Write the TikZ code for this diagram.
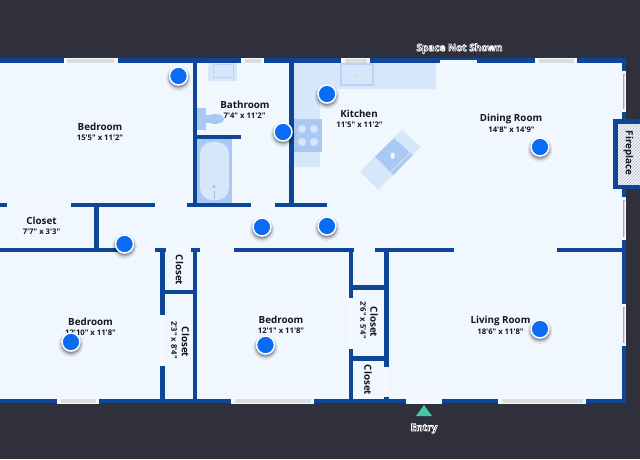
\documentclass[tikz,border=0pt]{standalone}
\usepackage{fontspec}
\newfontfamily\labelfont{Open Sans}[BoldFont={Open Sans Bold}]
\usetikzlibrary{patterns}
\definecolor{bgdark}{HTML}{2F303B}
\definecolor{roomfill}{HTML}{F0F7FE}
\definecolor{wallblue}{HTML}{0F4596}
\definecolor{fixlight}{HTML}{D6E6FB}
\definecolor{fixmid}{HTML}{A9C9F5}
\definecolor{fixline}{HTML}{B9D3F7}
\definecolor{dotblue}{HTML}{0A6BF5}
\definecolor{winfill}{HTML}{D9DDDE}
\definecolor{openfill}{HTML}{F6F9FC}
\definecolor{entrygreen}{HTML}{41C8A4}
\definecolor{inktext}{HTML}{15171C}
\definecolor{hatchgrey}{HTML}{B4BBC4}
\newcommand{\halotext}[1]{\special{pdf:code 1 1 1 RG 0.75 w 2 Tr}#1\special{pdf:code 0 Tr 0 0 0 RG}}
\tikzset{
  x=1pt,y=-1pt,
  wall/.style={draw=wallblue,line width=4.8pt},
  doorgap/.style={draw=openfill,line width=4pt},
  winend/.style={fill=openfill,draw=none},
  wincenter/.style={fill=winfill,draw=none},
  roomname/.style={font=\labelfont\bfseries\fontsize{9.8}{11}\selectfont,text=inktext,inner sep=0pt},
  roomsize/.style={font=\labelfont\bfseries\fontsize{7.7}{9}\selectfont,text=inktext,inner sep=0pt},
  outname/.style={font=\labelfont\bfseries\fontsize{10}{11}\selectfont,text=inktext,inner sep=1pt},
  mapdot/.style={circle,fill=dotblue,draw=white,line width=1.5pt,minimum size=18pt,inner sep=0pt},
}
\newcommand{\mapshadow}[1]{%
  \fill[black,opacity=.08] #1 ++(0,2.5) circle (12.5);
  \fill[black,opacity=.14] #1 ++(0,2) circle (11);
  \fill[black,opacity=.22] #1 ++(0,1.5) circle (10);
}
\newcommand{\hwin}[3]{% x1 x2 y-centre
  \fill[winend] (#1,#3-2.6) rectangle (#2,#3+2.6);
  \fill[wincenter] (#1+3.5,#3-1.9) rectangle (#2-3.5,#3+2.2);
}
\newcommand{\vwin}[3]{% y1 y2 x-centre
  \fill[winend] (#3-2.2,#1) rectangle (#3+2.2,#2);
  \fill[gray!70] (#3-.8,#1+3) rectangle (#3+1.2,#2-3);
  \fill[wincenter] (#3-.3,#1+3.5) rectangle (#3+.7,#2-3.5);
}
\begin{document}
\begin{tikzpicture}
\useasboundingbox (0,0) rectangle (640,459);
\fill[bgdark] (0,0) rectangle (640,459);
% floor
\fill[roomfill] (0,60) rectangle (624,401);
% kitchen fixtures
\fill[fixlight] (293,63) rectangle (436,89);
\fill[fixlight] (293,63) rectangle (320,167);
\fill[fixmid] (293,119) rectangle (322,152);
\foreach \cx/\cy in {302/129,314/129,302/142,314/142}
  \fill[fixlight] (\cx,\cy) circle (4);
\draw[fixline,line width=1.4pt,fill=fixlight] (341,64) rectangle (373,85);
\fill[fixline] (357,76) circle (1);
\fill[fixlight] (401.7,130) -- (421,146.7) -- (378.3,190) -- (360,171.7) -- cycle;
\fill[fixmid] (394,138.3) -- (412.7,155) -- (393.3,175) -- (375,156.7) -- cycle;
\draw[fixlight,line width=.8pt] (410,153) -- (391,171.5);
\fill[roomfill] (392.7,155.7) ellipse (2.2 and 3.2);
% bathroom fixtures
\fill[fixlight] (208,63) rectangle (237,81);
\draw[fixline,line width=.8pt,fill=fixlight] (213,64) rectangle (233,77);
\fill[fixmid] (196,108) rectangle (206,130);
\fill[fixmid] (205,115) rectangle (212,123);
\fill[fixmid] (215,119) ellipse (9 and 5);
\fill[fixmid] (196,138) rectangle (232,204);
\fill[fixlight] (200,142) [rounded corners=12pt] rectangle (229,200);
\fill[fixmid!80!gray] (214,186.5) circle (1.6);
\draw[fixmid!80!gray,line width=.6pt] (214,191) -- (214,199);
% walls
\draw[wall] (0,60.5) -- (626,60.5);
\draw[wall] (0,401) -- (626,401);
\draw[wall] (624,58.1) -- (624,403.4);
\draw[wall] (195,60) -- (195,205);
\draw[wall] (291.5,60) -- (291.5,205);
\draw[wall] (195,137) -- (240.5,137);
\draw[wall] (0,205) -- (7,205);
\draw[wall] (71,205) -- (155,205);
\draw[wall] (187,205) -- (251,205);
\draw[wall] (275,205) -- (326.5,205);
\draw[wall] (96.5,205) -- (96.5,250);
\draw[wall] (0,250) -- (118,250);
\draw[wall] (155,250) -- (166,250);
\draw[wall] (191,250) -- (200,250);
\draw[wall] (234,250) -- (354,250);
\draw[wall] (375,250) -- (454,250);
\draw[wall] (557,250) -- (624,250);
\draw[wall] (162.5,250) -- (162.5,315);
\draw[wall] (162.5,366) -- (162.5,401);
\draw[wall] (195,250) -- (195,401);
\draw[wall] (162.5,292) -- (195,292);
\draw[wall] (351,250) -- (351,298);
\draw[wall] (351,349) -- (351,401);
\draw[wall] (386.5,250) -- (386.5,367);
\draw[wall] (386.5,397) -- (386.5,401);
\draw[wall] (351,287.5) -- (386.5,287.5);
\draw[wall] (351,358.5) -- (386.5,358.5);
% door openings
\draw[doorgap] (7,205) -- (71,205);
\draw[doorgap] (155,205) -- (187,205);
\draw[doorgap] (251,205) -- (275,205);
\draw[doorgap] (118,250) -- (155,250);
\draw[doorgap] (166,250) -- (191,250);
\draw[doorgap] (200,250) -- (234,250);
\draw[doorgap] (354,250) -- (375,250);
\draw[doorgap] (162,315) -- (162,366);
\draw[doorgap] (351,298) -- (351,349);
\draw[doorgap] (386,367) -- (386,397);
\fill[openfill] (406,398) rectangle (442,404);
\fill[roomfill] (440,60) rectangle (477,64);
% windows
\hwin{63.5}{117.5}{60.5}
\hwin{241}{264}{60.5}
\hwin{341}{370}{60.5}
\hwin{535}{577}{60.5}
\hwin{57}{99}{401}
\hwin{231}{314}{401}
\hwin{498}{586}{401}
\vwin{71}{112}{624}
\vwin{197}{240}{624}
\vwin{304}{346}{624}
% fireplace
\fill[wallblue] (613,119) rectangle (640,189);
\fill[roomfill] (618,124) rectangle (640,184.5);
\fill[pattern=north east lines,pattern color=hatchgrey] (618,124) rectangle (640,184.5);
% entry marker
\fill[entrygreen] (424,405) -- (432,416) -- (416,416) -- cycle;
% labels
\node[roomname] (n1) at (100,127) {Bedroom};
\node[roomsize] (s1) at (100,138) {15'5" x 11'2"};
\node[roomname] (n2) at (245,104.5) {Bathroom};
\node[roomsize] (s2) at (244.5,116) {7'4" x 11'2"};
\node[roomname] (n3) at (359,114) {Kitchen};
\node[roomsize] (s3) at (359.5,125) {11'5" x 11'2"};
\node[roomname] (n4) at (511,119) {Dining Room};
\node[roomsize] (s4) at (511.5,130) {14'8" x 14'9"};
\node[roomname] (n5) at (41.5,221) {Closet};
\node[roomsize] (s5) at (41.5,232) {7'7" x 3'3"};
\node[roomname] (n6) at (90.5,322) {Bedroom};
\node[roomsize] (s6) at (90.5,333) {12'10" x 11'8"};
\node[roomname] (n7) at (281,319.5) {Bedroom};
\node[roomsize] (s7) at (281,331) {12'1" x 11'8"};
\node[roomname] (n8) at (500.5,321) {Living Room};
\node[roomsize] (s8) at (500.5,332) {18'6" x 11'8"};
\node[roomname,rotate=-90] (n9) at (179.5,270) {Closet};
\node[roomname,rotate=-90] (n10) at (185.5,342) {Closet};
\node[roomsize,rotate=-90] (s10) at (174,340) {2'3" x 8'4"};
\node[roomname,rotate=-90] (n11) at (374,322) {Closet};
\node[roomsize,rotate=-90] (s11) at (363,320) {2'6" x 5'4"};
\node[roomname,rotate=-90] (n12) at (368,380) {Closet};
\node[roomname,rotate=-90] (n13) at (628.5,153) {Fireplace};
\node[outname] (n14) at (459.5,48.5) {\halotext{Space Not Shown}};
\node[outname] (n15) at (424,428.5) {\halotext{Entry}};
% map dots
\foreach \px/\py/\nm in {178.5/76/d1,283/132/d2,327/94/d3,540/147/d4,262/227/d5,327/226/d6,124.5/244/d7,71/342/d8,265.5/345/d9,540/329/d10}{
  \mapshadow{(\px,\py)}
  \node[mapdot] (\nm) at (\px,\py) {};
}
\end{tikzpicture}
\end{document}
